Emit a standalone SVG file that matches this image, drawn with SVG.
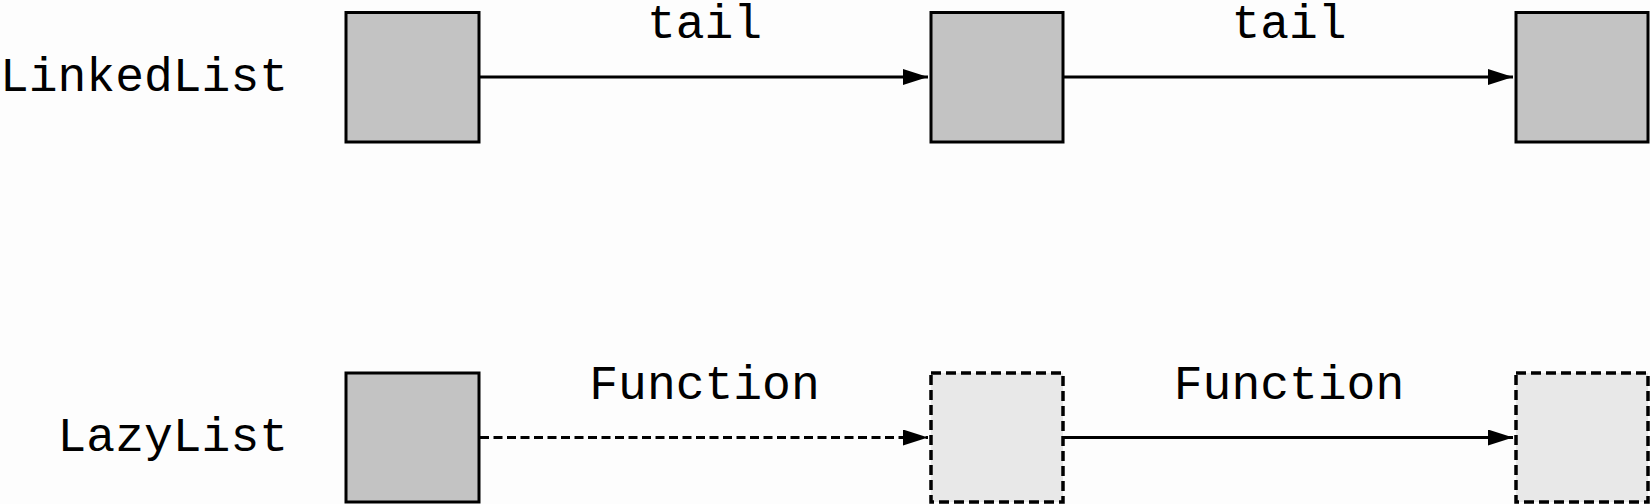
<svg xmlns="http://www.w3.org/2000/svg" width="1650" height="504" viewBox="0 0 1650 504">
<style>
.lbl{font-family:"Liberation Mono","Courier New",monospace;font-size:48px;fill:#000}
.solid{fill:#c3c3c3;stroke:#000;stroke-width:3}
.lazy{fill:#e8e8e8;stroke:#000;stroke-width:3.5;stroke-dasharray:10 5}
.conn{stroke:#000;stroke-width:3;fill:none}
.dash{stroke-width:3.2;stroke-dasharray:9 4.5}
</style>
<defs>
<marker id="arr" markerUnits="userSpaceOnUse" markerWidth="26" markerHeight="18" refX="25" refY="8" orient="auto">
<path d="M0,0 L25,8 L0,16 Z" fill="#000"/>
</marker>
</defs>
<rect width="1650" height="504" fill="#fdfdfd"/>
<text class="lbl" x="288" y="91" text-anchor="end">LinkedList</text>
<text class="lbl" x="288" y="451" text-anchor="end">LazyList</text>
<g id="connectors">
<line class="conn" x1="480" y1="77" x2="928" y2="77" marker-end="url(#arr)"/>
<line class="conn" x1="1064" y1="77" x2="1513" y2="77" marker-end="url(#arr)"/>
<line class="conn dash" x1="480" y1="437.5" x2="928" y2="437.5" marker-end="url(#arr)"/>
<line class="conn" x1="1064" y1="437.5" x2="1513" y2="437.5" marker-end="url(#arr)"/>
<text class="lbl" x="704.5" y="38" text-anchor="middle">tail</text>
<text class="lbl" x="1289" y="38" text-anchor="middle">tail</text>
<text class="lbl" x="704.5" y="399" text-anchor="middle">Function</text>
<text class="lbl" x="1289" y="399" text-anchor="middle">Function</text>
</g>
<g id="ll1"><rect class="solid" x="346" y="12.5" width="133" height="129.5"/></g>
<g id="ll2"><rect class="solid" x="931" y="12.5" width="132" height="129.5"/></g>
<g id="ll3"><rect class="solid" x="1516" y="12.5" width="132" height="129.5"/></g>
<g id="lz1"><rect class="solid" x="346" y="373" width="133" height="129"/></g>
<g id="lz2"><rect class="lazy" x="931" y="373" width="132" height="129"/></g>
<g id="lz3"><rect class="lazy" x="1516" y="373" width="132" height="129"/></g>
</svg>
